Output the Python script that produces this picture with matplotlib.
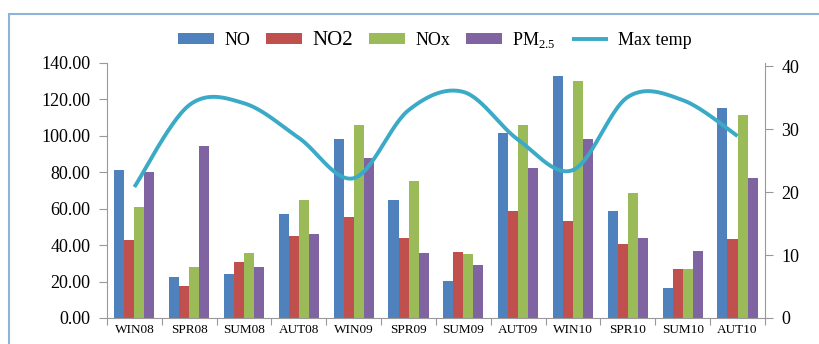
import numpy as np
import matplotlib
matplotlib.use("Agg")
import matplotlib.pyplot as plt
from matplotlib.patches import Rectangle

plt.rcParams["font.family"] = ["Liberation Serif", "DejaVu Serif"]
plt.rcParams["mathtext.fontset"] = "custom"
plt.rcParams["mathtext.rm"] = "Liberation Serif"

seasons = ["WIN08", "SPR08", "SUM08", "AUT08", "WIN09", "SPR09",
           "SUM09", "AUT09", "WIN10", "SPR10", "SUM10", "AUT10"]
no_vals = [81, 22.5, 24, 57, 98.5, 65, 20.5, 101.5, 133, 59, 16.5, 115.5]
no2_vals = [43, 17.5, 30.5, 45, 55.5, 44, 36.5, 59, 53, 40.5, 27, 43.5]
nox_vals = [61, 28, 35.5, 65, 106, 75, 35, 106, 130, 68.5, 27, 111.5]
pm25_vals = [80, 94.5, 28, 46, 88, 35.5, 29, 82.5, 98.5, 44, 37, 77]
max_temp = [20.8, 33.8, 34.1, 28.6, 22.2, 33.0, 35.9, 28.3, 23.5, 35.1, 34.6, 28.9]

series = [("NO", no_vals, "#4f81bd"),
          ("NO2", no2_vals, "#c0504d"),
          ("NOx", nox_vals, "#9bbb59"),
          ("PM$_{\\mathrm{2.5}}$", pm25_vals, "#8064a2")]


def smooth(x, y, n=30):
    # Excel-style smoothed line: cubic Bezier segments with 1/6 tension
    x = np.asarray(x, float)
    y = np.asarray(y, float)
    px = np.concatenate([[x[0]], x, [x[-1]]])
    py = np.concatenate([[y[0]], y, [y[-1]]])
    t = np.linspace(0, 1, n)
    xs, ys = [], []
    for i in range(len(x) - 1):
        p0 = np.array([px[i + 1], py[i + 1]])
        p3 = np.array([px[i + 2], py[i + 2]])
        c1 = p0 + (p3 - np.array([px[i], py[i]])) / 6
        c2 = p3 - (np.array([px[i + 3], py[i + 3]]) - p0) / 6
        pts = ((1 - t) ** 3)[:, None] * p0 + (3 * (1 - t) ** 2 * t)[:, None] * c1 \
            + (3 * (1 - t) * t ** 2)[:, None] * c2 + (t ** 3)[:, None] * p3
        xs.append(pts[:, 0])
        ys.append(pts[:, 1])
    return np.concatenate(xs), np.concatenate(ys)


fig = plt.figure(figsize=(8.19, 3.44), dpi=100)
ax = fig.add_axes([0.1306, 0.0756, 0.8034, 0.7414])

x = np.arange(len(seasons))
w = 0.183
for i, (name, vals, col) in enumerate(series):
    ax.bar(x + (i - 1.5) * w, vals, width=w, color=col, label=name, zorder=2)

ax.set_xlim(-0.5, len(seasons) - 0.5)
ax.set_ylim(0, 140)
ax.set_yticks(np.arange(0, 141, 20))
ax.set_yticklabels([f"{v:.2f}" for v in np.arange(0, 141, 20)], fontsize=13)
ax.set_xticks(np.arange(-0.5, len(seasons), 1))
ax.set_xticklabels([])
ax.set_xticks(x, minor=True)
ax.set_xticklabels(seasons, minor=True, fontsize=9.5)
ax.tick_params(axis="x", which="major", direction="out", length=5, color="#999999")
ax.tick_params(axis="x", which="minor", length=0, pad=4)
ax.tick_params(axis="y", direction="out", length=6, color="#999999", pad=6)
for s in ["top", "right"]:
    ax.spines[s].set_visible(False)
for s in ["left", "bottom"]:
    ax.spines[s].set_color("#999999")

ax2 = ax.twinx()
sx, sy = smooth(x, max_temp)
ax2.plot(sx, sy, color="#3aaac6", lw=2.8, label="Max temp", solid_capstyle="butt")
ax2.set_ylim(0, 40.5)
ax2.set_yticks([0, 10, 20, 30, 40])
ax2.tick_params(axis="y", direction="out", length=6, color="#999999", labelsize=13, pad=6)
for s in ["top", "left", "bottom"]:
    ax2.spines[s].set_visible(False)
ax2.spines["right"].set_color("#999999")

h1, l1 = ax.get_legend_handles_labels()
h2, l2 = ax2.get_legend_handles_labels()
leg = fig.legend(h1 + h2, l1 + l2, loc="center", bbox_to_anchor=(0.531, 0.884),
                 ncol=5, frameon=False, fontsize=13, handlelength=2.0,
                 handleheight=0.5, handletextpad=0.55, columnspacing=0.9)
for txt in leg.get_texts():
    if txt.get_text() == "NO2":
        txt.set_fontsize(15)

fig.add_artist(Rectangle((0.011, -0.05), 1.05, 0.959 + 0.05, transform=fig.transFigure,
                         fill=False, edgecolor="#8fb3d9", lw=1.5))

fig.savefig("out.png", dpi=100)
